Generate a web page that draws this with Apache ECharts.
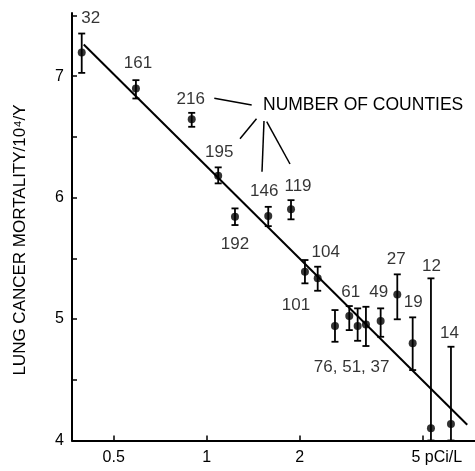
<!DOCTYPE html>
<html><head><meta charset="utf-8">
<script src="https://cdn.jsdelivr.net/npm/echarts@6/dist/echarts.min.js"></script>
<style>html,body{margin:0;padding:0;background:#fff}#c{width:475px;height:471px}</style>
</head><body><div id="c"></div>
<script>
// Radon concentration (pCi/L) of each county group
const radon = [0.394, 0.590, 0.894, 1.089, 1.234, 1.581, 1.873, 2.078, 2.285, 2.599, 2.891, 3.077, 3.273, 3.652, 4.134, 4.636, 5.312, 6.166];
// Lung cancer mortality /10^4/Y
const mortality = [7.195, 6.899, 6.646, 6.179, 5.842, 5.848, 5.905, 5.389, 5.335, 4.942, 5.025, 4.942, 4.956, 4.984, 5.203, 4.800, 4.100, 4.136];
const errHigh = [7.351, 6.967, 6.698, 6.249, 5.911, 5.924, 5.979, 5.486, 5.431, 5.074, 5.107, 5.088, 5.101, 5.088, 5.368, 5.014, 5.335, 4.772];
const errLow = [7.027, 6.816, 6.583, 6.117, 5.774, 5.765, 5.821, 5.294, 5.233, 4.813, 4.909, 4.821, 4.778, 4.854, 4.998, 4.580, 4.000, 4.000];
// Number of counties per group
const counties = [32, 161, 216, 195, 192, 146, 119, 101, 104, 76, 61, 51, 37, 49, 27, 19, 12, 14];
const countLabels = ['32','161','216','195','192','146','119','101','104','','61','76, 51, 37','','49','27','19','12','14'];
// Regression line end points
const fitX = [0.40, 6.96];
const fitY = [7.26, 4.13];
// Axis ticks
const xTicks = [0.5, 1, 2, 5];
const yTickLabels = [4, 5, 6, 7];

// layout (label offsets in px, relative to each point)
const labelOffsets = [[9,-34],[2,-25],[-1,-20],[1,-24],[0,28],[-4,-25],[7,-23],[-9,34],[8,-26],[0,0],[1.5,-23.5],[-6,41],[0,0],[-2,-28.5],[-1,-35],[0.5,-41],[0.5,-162.5],[-1.5,-91]];

const FONT = 'Liberation Sans, Arial, Helvetica, sans-serif';
const chart = echarts.init(document.getElementById('c'), null, {renderer: 'canvas'});

const pts = radon.map((x, i) => ({
  value: [x, mortality[i]],
  label: {show: countLabels[i] !== '', formatter: countLabels[i], offset: labelOffsets[i]}
}));
const errData = radon.map((x, i) => [x, errLow[i], errHigh[i]]);

chart.setOption({
  animation: false,
  backgroundColor: '#fff',
  grid: {left: 72, right: 0, top: 13, bottom: 30.5, containLabel: false},
  xAxis: {
    type: 'log', logBase: 10, min: 0.3665, max: 7.375,
    axisLine: {lineStyle: {color: '#000', width: 2}},
    axisTick: {show: true, inside: true, length: 5, lineStyle: {color: '#000', width: 1.5}, customValues: xTicks},
    axisLabel: {
      customValues: xTicks, margin: 9, color: '#000', fontSize: 16, fontFamily: FONT,
      formatter: v => (Math.abs(v - 5) < 1e-6 ? '{u|5 pCi/L}' : String(+v.toPrecision(3))),
      rich: {u: {fontSize: 16, fontFamily: FONT, color: '#000', padding: [0, 0, 0, 28]}}
    },
    splitLine: {show: false}, minorTick: {show: false}
  },
  yAxis: {
    type: 'value', min: 4, max: 7.52, interval: 0.5,
    axisLine: {show: true, lineStyle: {color: '#000', width: 2}},
    axisTick: {show: true, inside: true, length: 5, lineStyle: {color: '#000', width: 1.5}},
    axisLabel: {
      margin: 8, color: '#000', fontSize: 16, fontFamily: FONT, showMaxLabel: false,
      formatter: v => (yTickLabels.indexOf(v) >= 0 ? String(v) : '')
    },
    splitLine: {show: false}
  },
  graphic: [
    {type: 'text', left: 263, top: 96, style: {text: 'NUMBER OF COUNTIES', font: '17.5px ' + FONT, fill: '#000'}},
    {type: 'line', shape: {x1: 214.3, y1: 98.3, x2: 251.7, y2: 105}, style: {stroke: '#000', lineWidth: 1.5}},
    {type: 'line', shape: {x1: 256.5, y1: 118.8, x2: 240, y2: 138.8}, style: {stroke: '#000', lineWidth: 1.5}},
    {type: 'line', shape: {x1: 264, y1: 121, x2: 262, y2: 171.7}, style: {stroke: '#000', lineWidth: 1.5}},
    {type: 'line', shape: {x1: 266.7, y1: 121.7, x2: 290, y2: 164}, style: {stroke: '#000', lineWidth: 1.5}},
    {type: 'text', x: 20, y: 240, rotation: Math.PI / 2,
      style: {text: 'LUNG CANCER MORTALITY/10⁴/Y', font: '17px ' + FONT, fill: '#000', align: 'center', verticalAlign: 'middle'}}
  ],
  series: [
    {
      type: 'line', data: fitX.map((x, i) => [x, fitY[i]]), symbol: 'none',
      lineStyle: {color: '#000', width: 2}, z: 2
    },
    {
      type: 'custom', data: errData, z: 3,
      renderItem: (params, api) => {
        const x = api.value(0);
        const p1 = api.coord([x, api.value(2)]);
        const p2 = api.coord([x, api.value(1)]);
        const w = 3.5;
        const st = {stroke: '#000', lineWidth: 1.8};
        return {type: 'group', children: [
          {type: 'line', shape: {x1: p1[0], y1: p1[1], x2: p2[0], y2: p2[1]}, style: st},
          {type: 'line', shape: {x1: p1[0] - w, y1: p1[1], x2: p1[0] + w, y2: p1[1]}, style: st},
          {type: 'line', shape: {x1: p2[0] - w, y1: p2[1], x2: p2[0] + w, y2: p2[1]}, style: st}
        ]};
      }
    },
    {
      type: 'scatter', data: pts, symbol: 'circle', symbolSize: 8, z: 4,
      itemStyle: {color: '#000'},
      label: {position: 'inside', color: '#000', fontSize: 17, fontFamily: FONT, textBorderWidth: 0},
      emphasis: {disabled: true}
    }
  ]
});
</script></body></html>
